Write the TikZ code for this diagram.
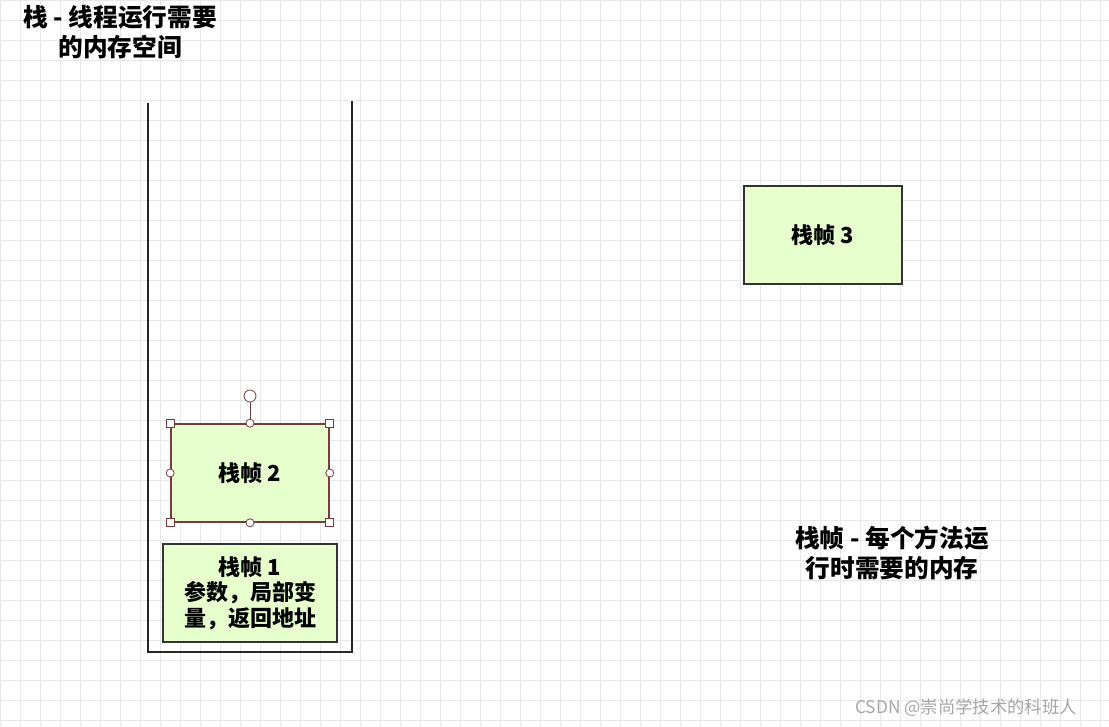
\documentclass[tikz,border=0pt]{standalone}
\usepackage{fontspec}
\setmainfont{Noto Sans CJK SC}
\usetikzlibrary{positioning}
\definecolor{framefill}{HTML}{E6FFCC}
\definecolor{selred}{HTML}{7A3B3B}
\begin{document}
\begin{tikzpicture}[x=0.75pt,y=-0.75pt,
    frame/.style={rectangle, draw=black!80, line width=1.2pt, fill=framefill,
                  minimum width=118.5pt, minimum height=73.5pt, align=center,
                  font=\fontsize{16.5}{19}\selectfont\bfseries},
    label/.style={align=center, font=\fontsize{18.5}{22}\selectfont\bfseries},
    handle/.style={draw=selred, fill=white, line width=0.6pt, minimum size=6pt, inner sep=0pt},
    wall/.style={draw=black!85, line width=1.3pt}
]
    % Background and grid
    \useasboundingbox (0,0) rectangle (1109,726);
    \fill[white] (0,0) rectangle (1109,726);
    \draw[gray!18, line width=0.4pt, step=15pt] (0,0) grid (1109,726);

    % Labels
    \node (stacklabel) [label] at (120,32) {栈 - 线程运行需要\\的内存空间};
    \node (framelabel) [label] at (892,553) {栈帧 - 每个方法运\\行时需要的内存};

    % Stack walls
    \coordinate (wlt) at (148,103);
    \coordinate (wlb) at (148,652);
    \coordinate (wrb) at (352,652);
    \coordinate (wrt) at (352,101);
    \draw[wall] (wlt) -- (wlb) -- (wrb) -- (wrt);

    % Frames
    \node (f1) [frame, minimum width=130.5pt, line width=1.4pt, inner sep=1pt] at (250,593) {栈帧 1\\参数，局部变\\量，返回地址};
    \node (f2) [frame, draw=selred] at (250,473) {栈帧 2};
    \node (f3) [frame] at (823,235) {栈帧 3};

    % Selection handles on frame 2
    \coordinate (rot) at (250,396);
    \draw[selred, line width=0.6pt] (f2.north) -- (rot);
    \node[handle, circle, minimum size=9pt] at (rot) {};
    \foreach \a in {north west, north east, south west, south east}
        \node[handle, rectangle] at (f2.\a) {};
    \foreach \a in {north, south, east, west}
        \node[handle, circle] at (f2.\a) {};

    % Watermark
    \node (mark) [text=gray!70, font=\fontsize{13}{15}\selectfont] at (966,708) {CSDN @崇尚学技术的科班人};
\end{tikzpicture}
\end{document}
